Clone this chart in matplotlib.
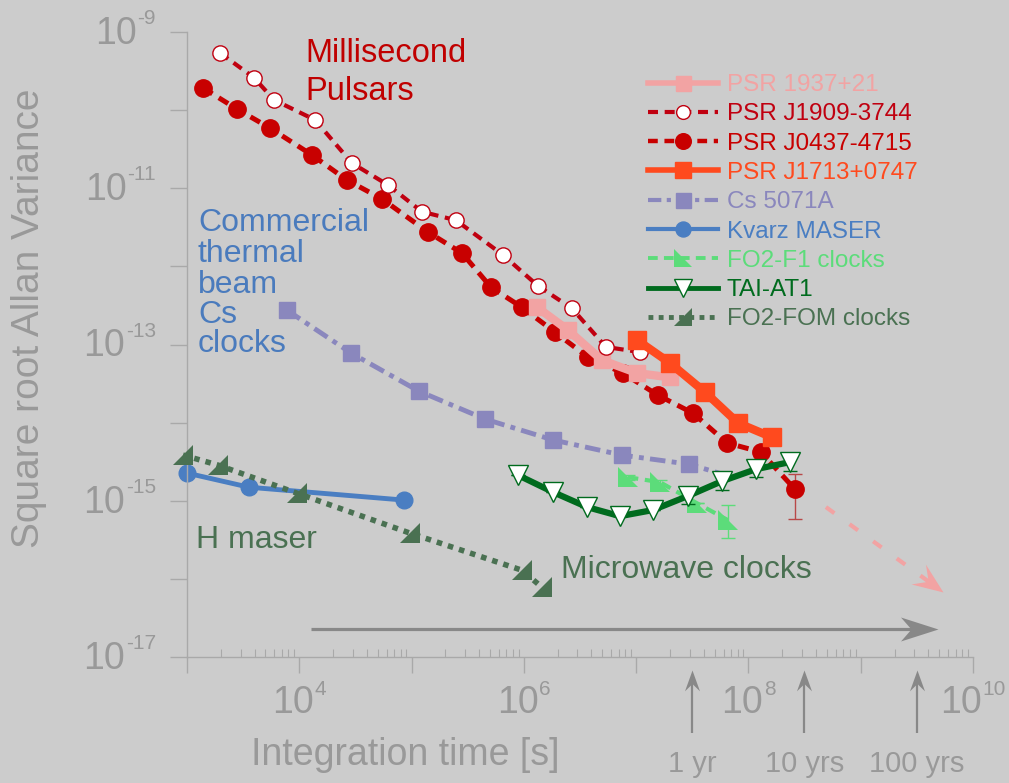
import matplotlib
matplotlib.use('Agg')
import matplotlib.pyplot as plt
import numpy as np
from matplotlib.path import Path
from matplotlib.markers import MarkerStyle
from matplotlib.transforms import Affine2D
from matplotlib.ticker import LogLocator, NullLocator, NullFormatter

plt.rcParams['font.family'] = ['Liberation Sans', 'DejaVu Sans']

W, H = 1009, 783
BG = '#cccccc'
AXC = '#a9a9a9'
TC = '#999999'

# ---------------- data (tau [s], sqrt Allan variance) ----------------
psr1937_t = [1.31e6, 2.47e6, 4.96e6, 1.02e7, 2.00e7]
psr1937_s = [3.0e-13, 1.53e-13, 6.3e-14, 4.3e-14, 3.8e-14]

j1909_t = [1970, 3950, 5960, 1.38e4, 2.94e4, 6.17e4, 1.24e5, 2.48e5, 6.52e5,
           1.34e6, 2.68e6, 5.38e6, 1.08e7]
j1909_s = [5.4e-10, 2.6e-10, 1.35e-10, 7.5e-11, 2.1e-11, 1.1e-11, 5.0e-12,
           3.9e-12, 1.4e-12, 5.6e-13, 2.9e-13, 9.3e-14, 8.0e-14]

j0437_t = [1390, 2790, 5480, 1.30e4, 2.66e4, 5.45e4, 1.40e5, 2.81e5, 5.10e5,
           9.6e5, 1.89e6, 3.72e6, 7.63e6, 1.56e7, 3.21e7, 6.44e7, 1.29e8, 2.59e8]
j0437_s = [1.92e-10, 1.03e-10, 5.9e-11, 2.66e-11, 1.27e-11, 7.3e-12, 2.75e-12,
           1.48e-12, 5.4e-13, 3.0e-13, 1.44e-13, 6.9e-14, 4.3e-14, 2.25e-14,
           1.32e-14, 5.5e-15, 4.2e-15, 1.41e-15]
j0437_err_lo = [8.3e-16]
j0437_err_hi = [7.8e-16]

j1713_t = [1.02e7, 2.00e7, 4.10e7, 8.07e7, 1.62e8]
j1713_s = [1.14e-13, 5.8e-14, 2.46e-14, 9.9e-15, 6.5e-15]

cs_t = [7770, 2.88e4, 1.16e5, 4.51e5, 1.82e6, 7.48e6, 2.95e7, 5.81e7]
cs_s = [2.75e-13, 7.8e-14, 2.53e-14, 1.11e-14, 6.0e-15, 3.84e-15, 2.94e-15, 2.2e-15]

kvarz_t = [1000, 3560, 8.55e4]
kvarz_s = [2.26e-15, 1.49e-15, 1.02e-15]

f1_t = [8.45e6, 1.63e7, 3.48e7, 6.56e7]
f1_s = [2.0e-15, 1.73e-15, 9.3e-16, 5.65e-16]
f1_err_lo = [1.5e-16, 1.3e-16, 0.0, 2.33e-16]
f1_err_hi = [1.6e-16, 1.4e-16, 0.0, 3.14e-16]

tai_t = [8.85e5, 1.82e6, 3.65e6, 7.18e6, 1.41e7, 2.89e7, 5.81e7, 1.17e8, 2.34e8]
tai_s = [2.13e-15, 1.29e-15, 8.3e-16, 6.35e-16, 7.6e-16, 1.15e-15, 1.78e-15,
         2.54e-15, 3.12e-15]
tai_err = [0, 0, 0, 0, 0, 2.5e-16, 4.0e-16, 5.5e-16, 7.0e-16]

fom_t = [921, 1890, 9550, 9.69e4, 9.62e5, 1.45e6]
fom_s = [3.84e-15, 2.86e-15, 1.25e-15, 3.85e-16, 1.29e-16, 7.8e-17]

labels = ['PSR 1937+21', 'PSR J1909-3744', 'PSR J0437-4715', 'PSR J1713+0747',
          'Cs 5071A', 'Kvarz MASER', 'FO2-F1 clocks', 'TAI-AT1', 'FO2-FOM clocks']

year_marks = [3.156e7, 3.156e8, 3.156e9]
year_labels = ['1 yr', '10 yrs', '100 yrs']

xtick_label_exps = [4, 6, 8, 10]
ytick_label_exps = [-9, -11, -13, -15, -17]

# decorative arrows (data coordinates)
pink_arrow = [(4.9e8, 8.3e-16), (5.4e9, 6.8e-17)]
grey_arrow = [(1.27e4, 2.27e-17), (4.86e9, 2.27e-17)]

# ---------------- colours ----------------
C_PINK = '#f2a3a3'
C_RED2 = '#c00010'
C_RED = '#c80000'
C_ORNG = '#ff4a1e'
C_CS = '#8a87bd'
C_KV = '#4a7ec2'
C_F1 = '#5cdc7a'
C_TAI = '#006b1e'
C_FOM = '#4a7152'

fig = plt.figure(figsize=(W / 100, H / 100), dpi=100, facecolor=BG)
ax = fig.add_axes([187 / W, 1 - 657 / H, (973 - 187) / W, (657 - 32) / H])
ax.set_facecolor(BG)
ax.set_xscale('log')
ax.set_yscale('log')
ax.set_xlim(1e3, 1e10)
ax.set_ylim(1e-17, 1e-9)
for s in ['top', 'right']:
    ax.spines[s].set_visible(False)
for s in ['left', 'bottom']:
    ax.spines[s].set_color(AXC)
    ax.spines[s].set_linewidth(1.0)

ax.xaxis.set_major_locator(LogLocator(base=10, numticks=30))
ax.xaxis.set_minor_locator(LogLocator(base=10, subs=np.arange(2, 10), numticks=30))
ax.xaxis.set_minor_formatter(NullFormatter())
ax.yaxis.set_major_locator(LogLocator(base=10, numticks=30))
ax.yaxis.set_minor_locator(NullLocator())
ax.tick_params(axis='x', which='major', direction='out', length=11.5, width=1,
               color=AXC, labelbottom=False)
ax.tick_params(axis='x', which='minor', direction='in', length=6, width=0.8,
               color=AXC)
ax.tick_params(axis='y', which='major', direction='out', length=12, width=1,
               color=AXC, labelleft=False)

# custom markers
tri_bl = Path([(-1, 1), (-1, -1), (1, -1), (-1, 1)], closed=True)   # ◣
tri_br = Path([(1, 1), (1, -1), (-1, -1), (1, 1)], closed=True)     # ◢

# ---------------- series ----------------
h_kv, = ax.plot(kvarz_t, kvarz_s, '-', color=C_KV, lw=3.5, marker='o', ms=12,
                mfc=C_KV, mec=C_KV, zorder=2, clip_on=False)
h_fom, = ax.plot(fom_t, fom_s, color=C_FOM, lw=4, ls=(0, (1, 1.1)),
                 marker=MarkerStyle(tri_br), ms=15, mfc=C_FOM, mec=C_FOM,
                 mew=0, zorder=3, clip_on=False)
h_cs, = ax.plot(cs_t, cs_s, color=C_CS, lw=3.5, ls=(0, (3.2, 1.3, 1, 1.3)),
                marker='s', ms=12, mfc=C_CS, mec=C_CS, zorder=2,
                markevery=list(range(len(cs_t) - 1)))
ax.errorbar(f1_t, f1_s, yerr=[f1_err_lo, f1_err_hi], fmt='none', ecolor=C_F1,
            elinewidth=1, capsize=5, zorder=2)
h_f1, = ax.plot(f1_t, f1_s, color=C_F1, lw=3, ls=(0, (2.5, 1.6)),
                marker=MarkerStyle(tri_bl), ms=15, mfc=C_F1, mec=C_F1, mew=0,
                zorder=3)
ax.errorbar(j0437_t[-1:], j0437_s[-1:], yerr=[j0437_err_lo, j0437_err_hi],
            fmt='none', ecolor='#b84848', elinewidth=1, capsize=5, zorder=2)
h_0437, = ax.plot(j0437_t, j0437_s, color=C_RED, lw=3.6, ls=(0, (2.2, 1.5)),
                  marker='o', ms=12.5, mfc=C_RED, mec=C_RED, zorder=3)
h_1937, = ax.plot(psr1937_t, psr1937_s, '-', color=C_PINK, lw=6, marker='s',
                  ms=12, mfc=C_PINK, mec=C_PINK, zorder=4)
h_1909, = ax.plot(j1909_t, j1909_s, color=C_RED2, lw=3, ls=(0, (2.4, 1.6)),
                  marker='o', ms=11, mfc='white', mec=C_RED2, mew=1, zorder=5)
h_1713, = ax.plot(j1713_t, j1713_s, '-', color=C_ORNG, lw=6, marker='s',
                  ms=12.5, mfc=C_ORNG, mec=C_ORNG, zorder=6)
ax.errorbar(tai_t, tai_s, yerr=tai_err, fmt='none', ecolor=C_TAI,
            elinewidth=1, capsize=5, zorder=4)
h_tai, = ax.plot(tai_t, tai_s, '-', color=C_TAI, lw=4.5, marker='v', ms=15,
                 mfc='white', mec=C_TAI, mew=1, zorder=5)

# ---------------- legend ----------------
handles = [h_1937, h_1909, h_0437, h_1713, h_cs, h_kv, h_f1, h_tai, h_fom]
leg = ax.legend(handles, labels, loc='upper left',
                bbox_to_anchor=(648 / W, 1 - 74 / H), bbox_transform=fig.transFigure,
                frameon=False, fontsize=17.5, handlelength=2.9, handletextpad=0.35,
                labelspacing=0.3, borderpad=0, borderaxespad=0, numpoints=1,
                labelcolor='linecolor', markerscale=0.9)
leg.set_zorder(10)
for t, c in zip(leg.get_texts(), [C_PINK, C_RED2, C_RED, C_ORNG, C_CS, C_KV,
                                   C_F1, C_TAI, C_FOM]):
    t.set_color(c)
for ln, lw in zip(leg.get_lines(), [4, 3, 3.2, 4, 3, 3, 2.8, 3.5, 3.5]):
    ln.set_linewidth(lw)

# ---------------- decorative arrows ----------------
def head_marker(angle_deg, half_w=0.32, notch=0.72):
    p = Path([(0, 0), (-1, half_w), (-notch, 0), (-1, -half_w), (0, 0)], closed=True)
    return MarkerStyle(p, transform=Affine2D().rotate_deg(angle_deg))

(p0, p1) = pink_arrow
d0 = ax.transData.transform(p0)
d1 = ax.transData.transform(p1)
ang = np.degrees(np.arctan2(d1[1] - d0[1], d1[0] - d0[0]))
ax.plot([p0[0], p1[0]], [p0[1], p1[1]], color=C_PINK, lw=3, ls=(0, (2.5, 4.5)),
        zorder=3)
ax.plot([p1[0]], [p1[1]], ls='none', marker=head_marker(ang, 0.4, 0.6), ms=44,
        color=C_PINK, mew=0, zorder=3, clip_on=False)

(g0, g1) = grey_arrow
ax.plot([g0[0], g1[0] / 1.6], [g0[1], g1[1]], color='#888888', lw=2.3,
        solid_capstyle='butt', zorder=3)
ax.plot([g1[0]], [g1[1]], ls='none', marker=head_marker(0, 0.32, 0.72), ms=54,
        color='#888888', mew=0, zorder=3, clip_on=False)

xt = ax.get_xaxis_transform()
y_tail = (657 - 733) / (657 - 32)
y_tip = (657 - 670) / (657 - 32)
for xm in year_marks:
    ax.plot([xm, xm], [y_tail, y_tip - 0.02], transform=xt, color='#888888',
            lw=1.6, clip_on=False, solid_capstyle='butt')
    ax.plot([xm], [y_tip], transform=xt, ls='none',
            marker=head_marker(90, 0.36, 0.65), ms=30, color='#888888', mew=0,
            clip_on=False)

# ---------------- text annotations ----------------
def ftext(x, y_top, s, **kw):
    return fig.text(x / W, 1 - y_top / H, s, **kw)

ftext(305, 62, 'Millisecond', fontsize=23.5, color='#c00000', va='baseline')
ftext(305, 100, 'Pulsars', fontsize=23.5, color='#c00000', va='baseline')
for s, yb in zip(['Commercial', 'thermal', 'beam', 'Cs', 'clocks'],
                 [231, 262, 293, 323, 352]):
    ftext(198, yb, s, fontsize=23, color='#4a7bbd', va='baseline')
ftext(196, 548, 'H maser', fontsize=23, color=C_FOM, va='baseline')
ftext(561, 578, 'Microwave clocks', fontsize=23, color=C_FOM, va='baseline')

ftext(251, 765, 'Integration time [s]', fontsize=27, color=TC, va='baseline')
ftext(29, 318, 'Square root Allan Variance', fontsize=28, color=TC,
      rotation=90, ha='center', va='center')

for xm, lab in zip(year_marks, year_labels):
    xd = ax.transData.transform((xm, 1e-17))[0]
    fig.text(xd / W, 1 - 772 / H, lab, fontsize=21, color=TC, ha='center',
             va='baseline')

# ---------------- tick labels (10 with superscript) ----------------
fig.canvas.draw()
r = fig.canvas.get_renderer()
for e in ytick_label_exps:
    yd = ax.transData.transform((1e3, 10.0 ** e))[1]
    te = fig.text(156 / W, (yd + 8) / H, f'{e}', ha='right', va='baseline',
                  fontsize=15, color=TC)
    bb = te.get_window_extent(r)
    fig.text((bb.x0 - 1) / W, (yd - 12) / H, '10', ha='right', va='baseline',
             fontsize=27, color=TC)

for e in xtick_label_exps:
    xd = ax.transData.transform((10.0 ** e, 1e-17))[0]
    t10 = fig.text(0, (H - 713) / H, '10', ha='left', va='baseline',
                   fontsize=27, color=TC)
    tex = fig.text(0, (H - 695) / H, f'{e}', ha='left', va='baseline',
                   fontsize=15, color=TC)
    w10 = t10.get_window_extent(r).width
    wex = tex.get_window_extent(r).width
    left = xd - (w10 + 1 + wex) / 2
    t10.set_x(left / W)
    tex.set_x((left + w10 + 1) / W)

fig.savefig('out.png', dpi=100, facecolor=BG)
